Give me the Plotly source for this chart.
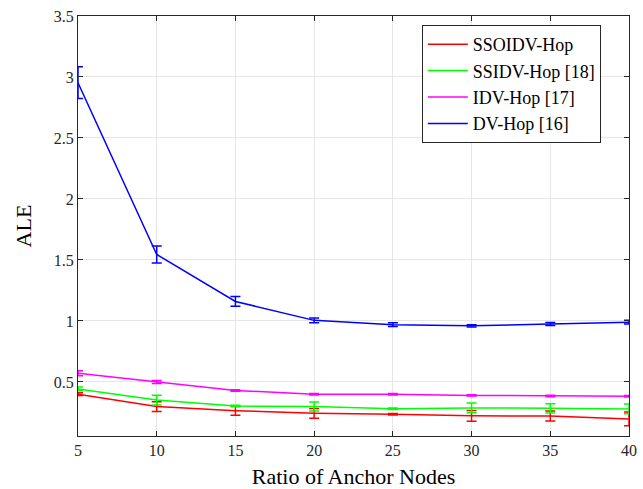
import plotly.graph_objects as go

x_vals = [5, 10, 15, 20, 25, 30, 35, 40]

series_names = ["SSOIDV-Hop", "SSIDV-Hop [18]", "IDV-Hop [17]", "DV-Hop [16]"]
series_colors = ["#ff0000", "#00ff00", "#ff00ff", "#0000ff"]

ssoidv = [0.40, 0.298, 0.265, 0.243, 0.235, 0.222, 0.221, 0.197]
ssoidv_err = [0.012, 0.04, 0.037, 0.04, 0.006, 0.044, 0.041, 0.056]

ssidv = [0.443, 0.352, 0.303, 0.298, 0.281, 0.287, 0.284, 0.279]
ssidv_err = [0.015, 0.04, 0.006, 0.037, 0.006, 0.04, 0.038, 0.04]

idv = [0.571, 0.50, 0.43, 0.40, 0.40, 0.39, 0.385, 0.383]
idv_err = [0.02, 0.012, 0.006, 0.006, 0.006, 0.006, 0.006, 0.006]

dvhop = [2.953, 1.545, 1.16, 1.005, 0.97, 0.96, 0.975, 0.99]
dvhop_err = [0.13, 0.07, 0.04, 0.02, 0.015, 0.01, 0.012, 0.015]

all_y = [ssoidv, ssidv, idv, dvhop]
all_err = [ssoidv_err, ssidv_err, idv_err, dvhop_err]

x_ticks = [5, 10, 15, 20, 25, 30, 35, 40]
y_ticks = [0.5, 1, 1.5, 2, 2.5, 3, 3.5]
y_tick_text = ["0.5", "1", "1.5", "2", "2.5", "3", "3.5"]

FONT = "Liberation Serif"

fig = go.Figure()
for name, color, yv, ev in zip(series_names, series_colors, all_y, all_err):
    fig.add_trace(go.Scatter(
        x=x_vals, y=yv, name=name, mode="lines",
        line=dict(color=color, width=1.5),
        error_y=dict(type="data", array=ev, visible=True, color=color,
                     thickness=1.5, width=5),
    ))

axis_common = dict(
    showline=True, linecolor="#262626", linewidth=1, mirror="ticks",
    ticks="inside", ticklen=5, tickcolor="#262626",
    showgrid=True, gridcolor="#e6e6e6", gridwidth=1, zeroline=False,
    tickfont=dict(family=FONT, size=16, color="#262626"),
    automargin=False,
)

fig.update_layout(
    width=643, height=489,
    margin=dict(l=78, r=14, t=16, b=53),
    paper_bgcolor="white", plot_bgcolor="white",
    font=dict(family=FONT, color="#262626"),
    xaxis=dict(range=[5, 40], tickvals=x_ticks,
               title=dict(text="Ratio of Anchor Nodes", font=dict(family=FONT, size=22, color="black"), standoff=12),
               **axis_common),
    yaxis=dict(range=[0.057, 3.5], tickvals=y_ticks, ticktext=y_tick_text,
               title=dict(text="ALE", font=dict(family=FONT, size=22, color="black"), standoff=16),
               **axis_common),
    legend=dict(x=0.624, y=0.9786, xanchor="left", yanchor="top",
                bgcolor="white", bordercolor="#262626", borderwidth=1,
                font=dict(family=FONT, size=18, color="black"),
                tracegroupgap=0, itemwidth=40),
    showlegend=True,
)

fig.write_html("out.html",
               config={"displayModeBar": False},
               post_script="document.body.style.margin='0';document.body.style.overflow='hidden';")
